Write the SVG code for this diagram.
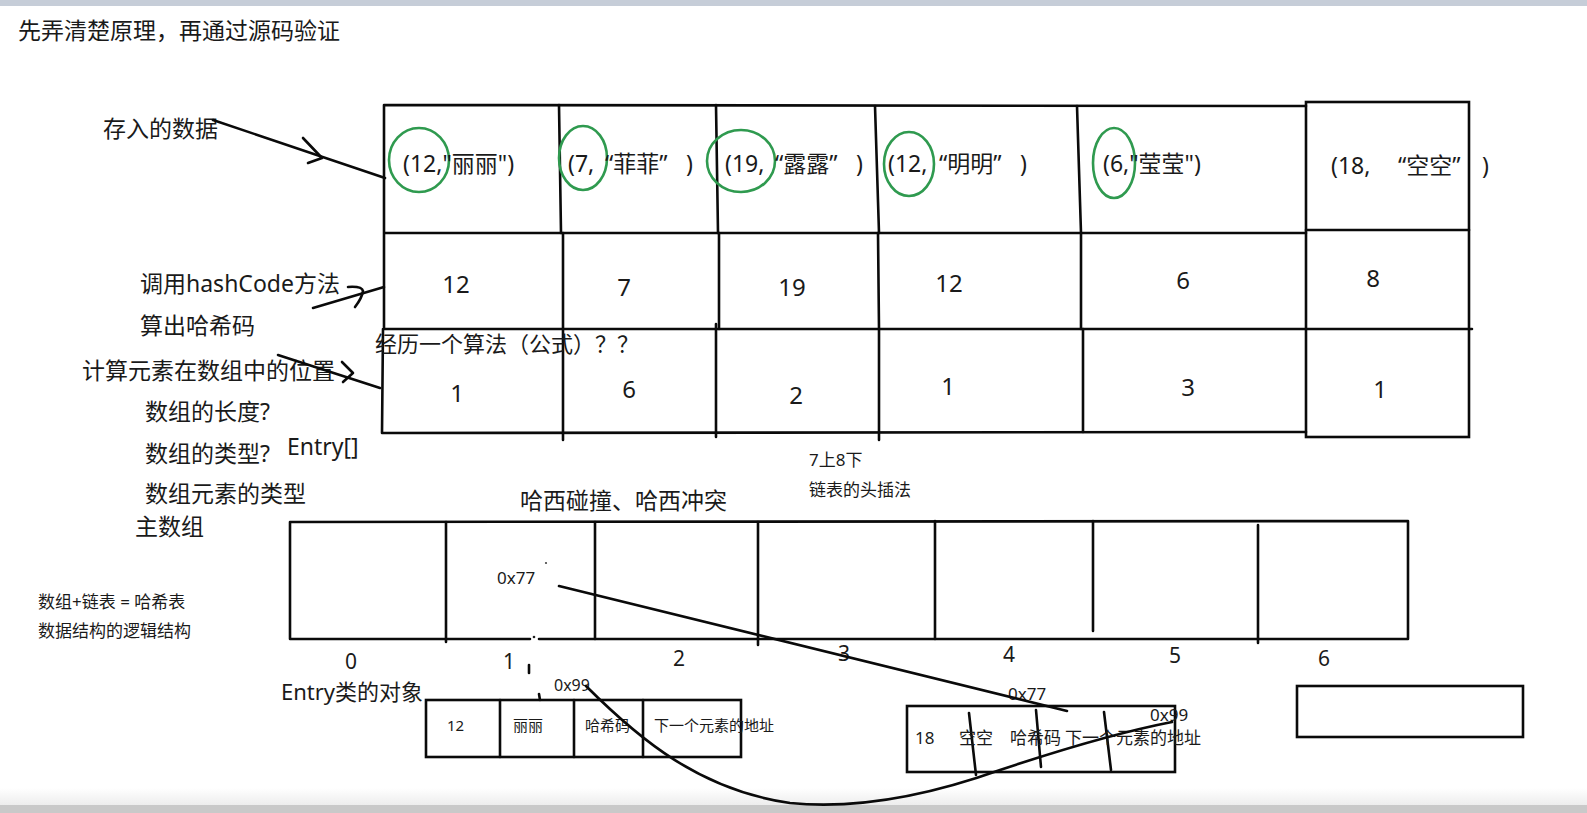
<svg xmlns="http://www.w3.org/2000/svg" width="1587" height="813" viewBox="0 0 1587 813">
<defs>
<style>
.t{font-family:"Noto Sans","Noto Sans CJK SC",sans-serif;fill:#1a1a1a}
.f23{font-size:23px}
.f22{font-size:22px}
.f24{font-size:24px}
.f21{font-size:21px}
.f17{font-size:17px}
.f16{font-size:16px}
.f15{font-size:15px}
.m{text-anchor:middle}
.ln{stroke:#0a0a0a;stroke-width:2.6;fill:none;stroke-linecap:round;stroke-linejoin:round}
.bx{stroke:#0a0a0a;stroke-width:2.6;fill:none}
.g{stroke:#2f9a4f;stroke-width:2.6;fill:none}
</style>
<linearGradient id="shade" x1="0" y1="0" x2="0" y2="1">
<stop offset="0" stop-color="#ffffff"/>
<stop offset="1" stop-color="#ececec"/>
</linearGradient>
</defs>
<rect width="1587" height="813" fill="#ffffff"/>
<rect x="0" y="0" width="1587" height="6" fill="#c6cdd8"/>
<rect x="0" y="788" width="1587" height="18" fill="url(#shade)"/>
<rect x="0" y="805" width="1587" height="8" fill="#c9c9c9"/>

<g id="title"><text class="t f23" x="18" y="39">先弄清楚原理，再通过源码验证</text></g>

<g id="labels-left">
<text id="lbl-data" class="t f23" x="103" y="137">存入的数据</text>
<text id="lbl-hash" class="t f23" x="140" y="292">调用hashCode方法</text>
<text id="lbl-hash2" class="t f23" x="140" y="334">算出哈希码</text>
<text id="lbl-pos" class="t f23" x="82" y="379">计算元素在数组中的位置</text>
<text id="lbl-len" class="t f23" x="145" y="420">数组的长度?</text>
<text id="lbl-type" class="t f23" x="145" y="462">数组的类型?</text>
<text id="lbl-entry" class="t f23" x="287" y="455">Entry[]</text>
<text id="lbl-etype" class="t f23" x="145" y="502">数组元素的类型</text>
<text id="lbl-main" class="t f23" x="135" y="535">主数组</text>
<text id="lbl-ht1" class="t f17" x="38" y="608">数组+链表 = 哈希表</text>
<text id="lbl-ht2" class="t f17" x="38" y="637">数据结构的逻辑结构</text>
</g>

<g id="input-table">
<path class="ln" d="M384,105 L1306,106 M384,105 L384,329 M383,329 L382,433 M384,233 L1306,233 M384,329 L1472,329 M383,433 L1306,432"/>
<path class="ln" d="M559,105 L561,233 M716,105 L718,233 M875,106 L879,233 M1077,106 L1081,233"/>
<path class="ln" d="M563,233 L563,329 M719,233 L719,329 M878,233 L879,329 M1081,233 L1081,329"/>
<path class="ln" d="M563,329 L563,440 M716,324 L716,437 M879,329 L879,440 M1083,329 L1083,432"/>
<rect class="bx" x="1306" y="102" width="163" height="335"/>
<path class="ln" d="M1306,230 L1469,230"/>
<text class="t f22" x="375" y="352">经历一个算法（公式）？？</text>
</g>

<g id="entry-col-1">
<ellipse class="g" cx="419" cy="160" rx="30" ry="32"/>
<text class="t f23" x="403" y="172">(12,"丽丽")</text>
<text class="t f24 m" x="456" y="293">12</text>
<text class="t f24 m" x="457" y="402">1</text>
</g>
<g id="entry-col-2">
<ellipse class="g" cx="583" cy="158" rx="24" ry="32"/>
<text class="t f23" y="172"><tspan x="568">(7,</tspan><tspan x="605">“菲菲”</tspan><tspan x="686">)</tspan></text>
<text class="t f24 m" x="624" y="296">7</text>
<text class="t f24 m" x="629" y="398">6</text>
</g>
<g id="entry-col-3">
<ellipse class="g" cx="741" cy="161" rx="34" ry="31"/>
<text class="t f23" y="172"><tspan x="725">(19,</tspan><tspan x="775">“露露”</tspan><tspan x="856">)</tspan></text>
<text class="t f24 m" x="792" y="296">19</text>
<text class="t f24 m" x="796" y="404">2</text>
</g>
<g id="entry-col-4">
<ellipse class="g" cx="909" cy="164" rx="25" ry="32"/>
<text class="t f23" y="172"><tspan x="888">(12,</tspan><tspan x="939">“明明”</tspan><tspan x="1020">)</tspan></text>
<text class="t f24 m" x="949" y="292">12</text>
<text class="t f24 m" x="948" y="395">1</text>
</g>
<g id="entry-col-5">
<ellipse class="g" cx="1114" cy="163" rx="21" ry="35"/>
<text class="t f23" x="1103" y="172">(6,"莹莹")</text>
<text class="t f24 m" x="1183" y="289">6</text>
<text class="t f24 m" x="1188" y="396">3</text>
</g>
<g id="entry-col-6">
<text class="t f23" y="174"><tspan x="1331">(18,</tspan><tspan x="1398">“空空”</tspan><tspan x="1482">)</tspan></text>
<text class="t f24 m" x="1373" y="287">8</text>
<text class="t f24 m" x="1380" y="398">1</text>
</g>

<g id="main-array">
<text class="t f23" x="520" y="509">哈西碰撞、哈西冲突</text>
<text class="t f17" x="809" y="466">7上8下</text>
<text class="t f17" x="809" y="496">链表的头插法</text>
<path class="ln" d="M290,522 L1408,521 M290,522 L290,639 M1408,521 L1408,639 M290,639 L530,639 M539,639 L1408,639"/>
<path class="ln" d="M446,522 L446,642 M595,522 L595,639 M758,522 L758,645 M935,521 L935,639 M1093,521 L1093,631 M1258,525 L1258,643"/>
<circle cx="534" cy="637" r="1.3" fill="#222"/>
<circle cx="546" cy="563" r="1.1" fill="#444"/>
<path class="ln" d="M529,665 L529,673" stroke-width="1.8"/>
<text class="t f17" x="497" y="584">0x77</text>
<text class="t f21 m" x="351" y="669">0</text>
<text class="t f21 m" x="509" y="669">1</text>
<text class="t f21 m" x="679" y="666">2</text>
<text class="t f21 m" x="844" y="661">3</text>
<text class="t f21 m" x="1009" y="662">4</text>
<text class="t f21 m" x="1175" y="663">5</text>
<text class="t f21 m" x="1324" y="666">6</text>
</g>

<g id="entry-obj-label"><text class="t f22" x="281" y="700">Entry类的对象</text></g>

<g id="entry-node-1">
<rect class="bx" x="426" y="700" width="315" height="57"/>
<path class="ln" d="M500,700 L500,757 M574,700 L574,757 M643,700 L643,757"/>
<path class="ln" d="M539,694 L540,700" stroke-width="1.8"/>
<text class="t f16" x="554" y="691">0x99</text>
<text class="t f15" x="447" y="731">12</text>
<text class="t f15" x="513" y="731">丽丽</text>
<text class="t f15" x="585" y="731">哈希码</text>
<text class="t f15" x="654" y="731">下一个元素的地址</text>
</g>

<g id="entry-node-2">
<rect class="bx" x="907" y="706" width="268" height="66"/>
<path class="ln" d="M969,713 L976,775 M1036,710 L1041,767 M1104,712 L1111,770"/>
<text class="t f17" x="1008" y="700">0x77</text>
<text class="t f17" x="1150" y="721">0x99</text>
<text class="t f17" x="915" y="744">18</text>
<text class="t f17" x="959" y="744">空空</text>
<text class="t f17" x="1010" y="744">哈希码</text>
<text class="t f17" x="1065" y="744">下一个元素的地址</text>
</g>

<g id="entry-node-3">
<rect class="bx" x="1297" y="686" width="226" height="51"/>
</g>

<g id="connectors">
<path class="ln" d="M213,120 L385,178"/>
<path class="ln" d="M303,138 L322,158 L308,163"/>
<path class="ln" d="M313,308 L384,287"/>
<path class="ln" d="M348,287 Q362,286 363,291 Q362,298 355,307"/>
<path class="ln" d="M278,355 L380,388"/>
<path class="ln" d="M342,362 L353,373 L343,382"/>
<path class="ln" d="M559,586 L1067,711"/>
<path class="ln" d="M586,686 C640,740 700,790 790,803 C860,810 930,795 1000,770 C1060,750 1120,732 1172,722"/>
</g>
</svg>
